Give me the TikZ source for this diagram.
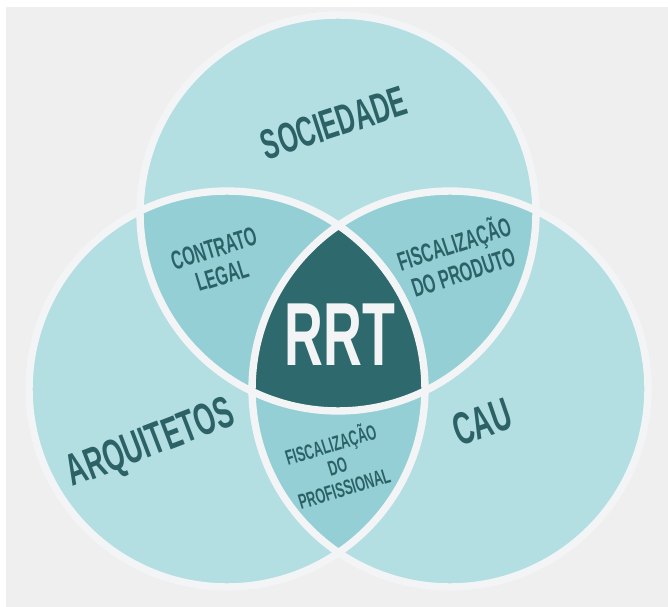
\documentclass[tikz,border=0pt]{standalone}
\usepackage{fontspec}
\newfontfamily\condfont{Liberation Sans}[FakeStretch=0.6]
\usepackage{tikz}
\usetikzlibrary{calc}
\usetikzlibrary{positioning}

\definecolor{bgc}{HTML}{EFEFEF}
\definecolor{circc}{HTML}{B3DFE3}
\definecolor{lensc}{HTML}{94CFD5}
\definecolor{corec}{HTML}{2E6A6D}
\definecolor{txtc}{HTML}{2C6266}
\definecolor{rimc}{HTML}{F3F4F6}

\tikzset{
  setlabel/.style={text=txtc,align=center,inner sep=0pt,rotate=#1},
  setlabel/.default=18,
  rim/.style={draw=rimc,line width=4.2pt}
}
\def\rad{3.96cm}

\begin{document}
\begin{tikzpicture}[x=0.02cm,y=-0.02cm]
\useasboundingbox (0,0) rectangle (668,607);
\fill[white] (0,0) rectangle (668,607);
\fill[bgc] (6,7) rectangle (668,607);

\coordinate (soc) at (338,213);
\coordinate (arq) at (227,389);
\coordinate (cau) at (450,389);

\fill[circc] (soc) circle[radius=\rad] (arq) circle[radius=\rad] (cau) circle[radius=\rad];

\begin{scope}
\clip (soc) circle[radius=\rad];
\fill[lensc] (arq) circle[radius=\rad];
\fill[lensc] (cau) circle[radius=\rad];
\end{scope}
\begin{scope}
\clip (arq) circle[radius=\rad];
\fill[lensc] (cau) circle[radius=\rad];
\end{scope}
\begin{scope}
\clip (soc) circle[radius=\rad];
\clip (arq) circle[radius=\rad];
\fill[corec] (cau) circle[radius=\rad];
\end{scope}

\draw[rim] (soc) circle[radius=\rad] (arq) circle[radius=\rad] (cau) circle[radius=\rad];

\node[setlabel=18,font=\condfont\bfseries\fontsize{24}{24}\selectfont] (sociedade) at (334,123) {SOCIEDADE};
\node[setlabel=21,font=\condfont\bfseries\fontsize{25.5}{25.5}\selectfont] (arquitetos) at (151,445) {ARQUITETOS};
\node[setlabel=19,font=\condfont\bfseries\fontsize{26}{26}\selectfont] (caulbl) at (482,422) {CAU};
\node[text=rimc,inner sep=0pt,font=\condfont\bfseries\fontsize{51}{51}\selectfont] (rrt) at (340,335) {RRT};
\node[setlabel=17,font=\condfont\bfseries\fontsize{15}{16}\selectfont] (contrato) at (218,262) {CONTRATO\\LEGAL};
\node[setlabel=18,font=\condfont\bfseries\fontsize{15}{17}\selectfont] (produto) at (458,256) {FISCALIZAÇÃO\\DO PRODUTO};
\node[setlabel=17,font=\condfont\bfseries\fontsize{12}{13}\selectfont] (profissional) at (337,465) {FISCALIZAÇÃO\\DO\\PROFISSIONAL};
\end{tikzpicture}
\end{document}
